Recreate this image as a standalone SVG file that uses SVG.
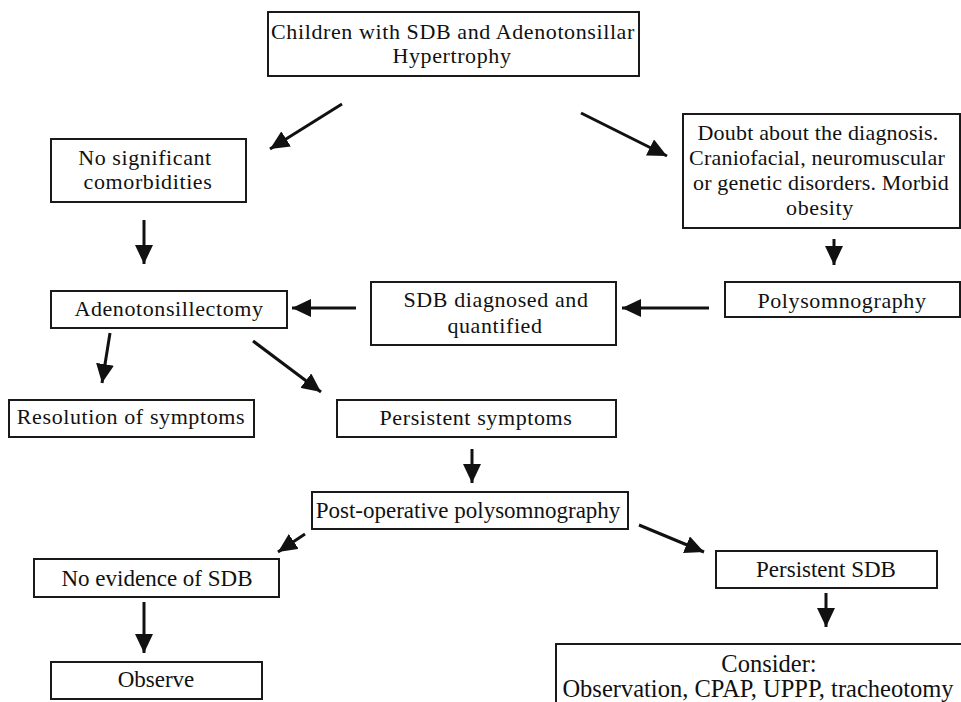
<svg xmlns="http://www.w3.org/2000/svg" width="961" height="702" viewBox="0 0 961 702">
  <style>
    .box { fill: #ffffff; stroke: #1a1a1a; stroke-width: 2; }
    text { font-family: "Liberation Serif", "Times New Roman", "DejaVu Serif", serif; fill: #111111; text-anchor: middle; }
    .lbl { font-size: 22px; letter-spacing: 0.6px; }
    .tight { letter-spacing: 0.2px; }
    .lbl2 { font-size: 23px; }
    .big { font-size: 24.5px; }
    .edge { stroke: #111111; stroke-width: 3; fill: none; marker-end: url(#head); }
  </style>
  <defs>
    <marker id="head" markerUnits="userSpaceOnUse" markerWidth="20" markerHeight="18" viewBox="0 0 20 18" refX="19" refY="9" orient="auto">
      <path d="M0,0 L19,9 L0,18 Z" fill="#111111"/>
    </marker>
  </defs>
  <rect width="961" height="702" fill="#ffffff"/>

  <g id="start">
    <rect class="box" x="268" y="12" width="371" height="64"/>
    <text class="lbl" x="453" y="39">Children with SDB and Adenotonsillar</text>
    <text class="lbl" x="452" y="63">Hypertrophy</text>
  </g>

  <g id="no-comorbidities">
    <rect class="box" x="51" y="139" width="195" height="63"/>
    <text class="lbl" x="145" y="165">No significant</text>
    <text class="lbl" x="148" y="189">comorbidities</text>
  </g>

  <g id="doubt">
    <rect class="box" x="683" y="114" width="277" height="114"/>
    <text class="lbl tight" x="818" y="140">Doubt about the diagnosis.</text>
    <text class="lbl tight" x="817" y="165">Craniofacial, neuromuscular</text>
    <text class="lbl tight" x="821" y="190">or genetic disorders. Morbid</text>
    <text class="lbl" x="820" y="215">obesity</text>
  </g>

  <g id="adenotonsillectomy">
    <rect class="box" x="51" y="291" width="236" height="37"/>
    <text class="lbl" x="169" y="316">Adenotonsillectomy</text>
  </g>

  <g id="sdb-diagnosed">
    <rect class="box" x="371" y="282" width="245" height="63"/>
    <text class="lbl" x="496" y="307">SDB diagnosed and</text>
    <text class="lbl" x="495" y="333">quantified</text>
  </g>

  <g id="polysomnography">
    <rect class="box" x="725" y="282" width="235" height="35"/>
    <text class="lbl" x="842" y="308">Polysomnography</text>
  </g>

  <g id="resolution">
    <rect class="box" x="9" y="400" width="245" height="37"/>
    <text class="lbl" x="131" y="424">Resolution of symptoms</text>
  </g>

  <g id="persistent-symptoms">
    <rect class="box" x="337" y="400" width="279" height="37"/>
    <text class="lbl" x="476" y="425">Persistent symptoms</text>
  </g>

  <g id="post-op-psg">
    <rect class="box" x="312" y="492" width="316" height="37"/>
    <text class="lbl2" x="468" y="518">Post-operative polysomnography</text>
  </g>

  <g id="no-evidence">
    <rect class="box" x="34" y="559" width="245" height="38"/>
    <text class="lbl2" x="157" y="586">No evidence of SDB</text>
  </g>

  <g id="persistent-sdb">
    <rect class="box" x="716" y="551" width="221" height="37"/>
    <text class="lbl2" x="826" y="577">Persistent SDB</text>
  </g>

  <g id="observe">
    <rect class="box" x="51" y="662" width="211" height="37"/>
    <text class="lbl2" x="156" y="687">Observe</text>
  </g>

  <g id="consider">
    <rect class="box" x="556" y="644" width="406" height="70"/>
    <text class="big" x="769" y="672">Consider:</text>
    <text class="big" x="758" y="697">Observation, CPAP, UPPP, tracheotomy</text>
  </g>

  <g id="connectors">
    <line class="edge" x1="342" y1="104" x2="270" y2="149"/>
    <line class="edge" x1="581" y1="113" x2="667" y2="156"/>
    <line class="edge" x1="144" y1="220" x2="144" y2="264"/>
    <line class="edge" x1="834" y1="239" x2="834" y2="265"/>
    <line class="edge" x1="709" y1="308" x2="622" y2="308"/>
    <line class="edge" x1="356" y1="308" x2="292" y2="308"/>
    <line class="edge" x1="110" y1="333" x2="102" y2="383"/>
    <line class="edge" x1="253" y1="341" x2="321" y2="392"/>
    <line class="edge" x1="472" y1="449" x2="472" y2="483"/>
    <line class="edge" x1="305" y1="534" x2="278" y2="552"/>
    <line class="edge" x1="639" y1="525" x2="704" y2="552"/>
    <line class="edge" x1="826" y1="593" x2="826" y2="627"/>
    <line class="edge" x1="144" y1="602" x2="144" y2="653"/>
  </g>
</svg>
